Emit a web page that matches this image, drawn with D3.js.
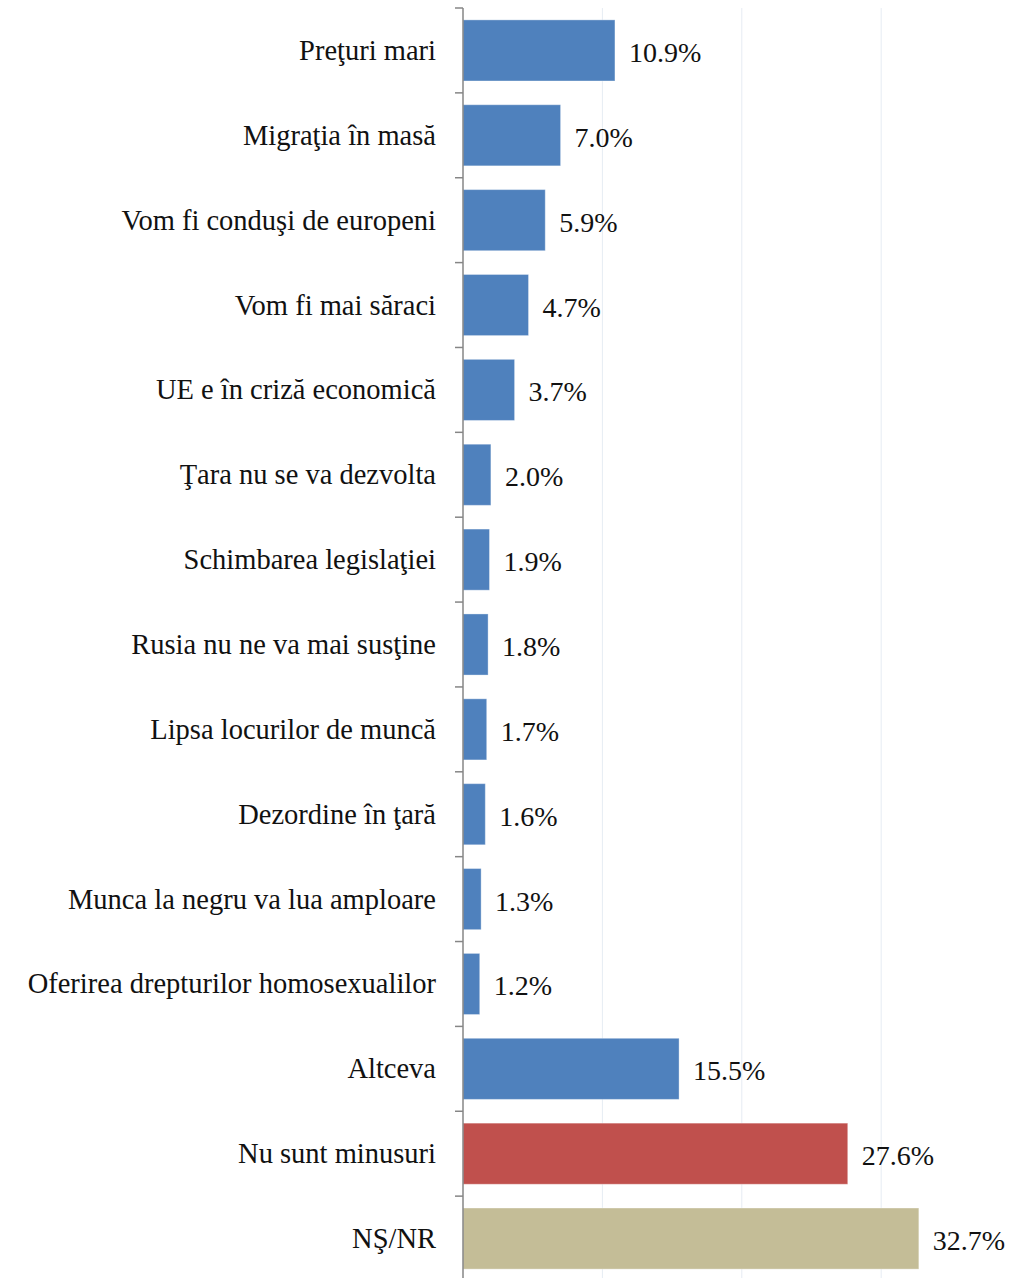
<!DOCTYPE html>
<html><head><meta charset="utf-8">
<script src="https://cdn.jsdelivr.net/npm/d3@7"></script>
<style>body{margin:0;background:#fff}</style>
</head><body>
<svg id="c" width="1013" height="1278"></svg>
<script>
const categories = ["Preţuri mari","Migraţia în masă","Vom fi conduşi de europeni","Vom fi mai săraci","UE e în criză economică","Ţara nu se va dezvolta","Schimbarea legislaţiei","Rusia nu ne va mai susţine","Lipsa locurilor de muncă","Dezordine în ţară","Munca la negru va lua amploare","Oferirea drepturilor homosexualilor","Altceva","Nu sunt minusuri","NŞ/NR"];
const values = [10.9,7.0,5.9,4.7,3.7,2.0,1.9,1.8,1.7,1.6,1.3,1.2,15.5,27.6,32.7];
const colorKeys = ["b","b","b","b","b","b","b","b","b","b","b","b","b","r","t"];
const gridTicks = [10,20,30];

(function(){
const svg = d3.select("#c");
const left = 463, y0 = 8, y1 = 1278;
const x = d3.scaleLinear().domain([0,10]).range([left, left+139.4]);
const y = d3.scaleBand().domain(categories).range([y0, y1+3]).paddingInner(0.28).paddingOuter(0.14);
const color = d3.scaleOrdinal().domain(["b","r","t"]).range(["#4F81BD","#C0504D","#C4BD97"]);
const font = "'Liberation Serif', serif";

svg.append("g").selectAll("line").data(gridTicks).join("line")
  .attr("x1", d=>x(d)).attr("x2", d=>x(d)).attr("y1", y0).attr("y2", y1)
  .attr("stroke","#E6ECF3").attr("stroke-width",1);

svg.append("g").selectAll("rect").data(values).join("rect")
  .attr("x", x(0)).attr("y", (d,i)=>y(categories[i]))
  .attr("width", d=>x(d)-x(0)).attr("height", y.bandwidth())
  .attr("fill", (d,i)=>color(colorKeys[i]))
  .attr("stroke", "rgba(255,255,255,0.35)").attr("stroke-width",1);

const boundaries = d3.range(categories.length+1).map(i=>y0 + i*(y1+3-y0)/categories.length);
svg.append("line").attr("x1",left).attr("x2",left).attr("y1",y0).attr("y2",y1)
  .attr("stroke","#868686").attr("stroke-width",1.5);
svg.append("g").selectAll("line").data(boundaries).join("line")
  .attr("x1",left-8).attr("x2",left).attr("y1",d=>d).attr("y2",d=>d)
  .attr("stroke","#868686").attr("stroke-width",1.5);

svg.append("g").selectAll("text").data(categories).join("text")
  .attr("x", left-27).attr("y", d=>y(d)+y.bandwidth()/2)
  .attr("text-anchor","end").attr("dominant-baseline","central")
  .attr("font-family",font).attr("font-size",28.5).attr("fill","#111")
  .text(d=>d);

svg.append("g").selectAll("text").data(values).join("text")
  .attr("x", d=>x(d)+14).attr("y", (d,i)=>y(categories[i])+y.bandwidth()/2+2)
  .attr("dominant-baseline","central")
  .attr("font-family",font).attr("font-size",28).attr("fill","#111")
  .text(d=>d.toFixed(1)+"%");
})();
</script>
</body></html>
